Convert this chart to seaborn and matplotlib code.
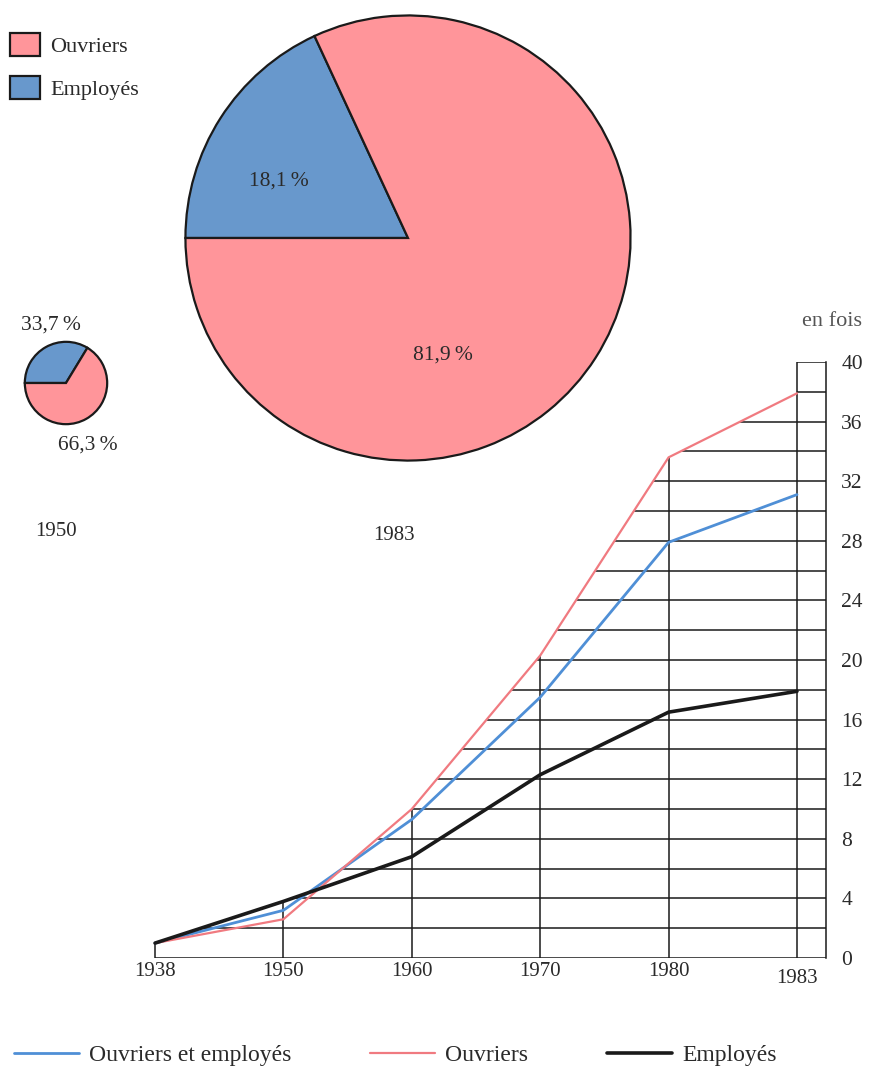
import numpy as np
import pandas as pd
import matplotlib
matplotlib.use("Agg")
import matplotlib.pyplot as plt
import seaborn as sns

# ---------------- data ----------------
years = ["1938", "1950", "1960", "1970", "1980", "1983"]
ouvriers_et_employes = [1.0, 3.2, 9.3, 17.5, 27.9, 31.1]
ouvriers = [1.0, 2.6, 10.0, 20.3, 33.6, 37.9]
employes = [1.0, 3.8, 6.8, 12.3, 16.5, 17.9]
series_names = ["Ouvriers et employés", "Ouvriers", "Employés"]

y_ticks = [0, 4, 8, 12, 16, 20, 24, 28, 32, 36, 40]

pie_labels = ["Employés", "Ouvriers"]
pie_1950 = [33.7, 66.3]
pie_1983 = [18.1, 81.9]

# ---------------- style ----------------
sns.set_theme(style="white")
plt.rcParams["font.family"] = ["Liberation Serif", "DejaVu Serif"]
TXT = "#2a2a2a"
RED = "#ff959a"
BLUE = "#6898cc"
LINE_RED = "#f07a80"
LINE_BLUE = "#4f8fd6"

W, H = 870, 1073
fig = plt.figure(figsize=(W / 100, H / 100), dpi=100)


def fx(x):
    return x / W


def fy(y):
    return 1 - y / H


# ---------------- line chart ----------------
xr = 5.226
ax = fig.add_axes([fx(142.2), fy(958), fx(826 - 142.2), (958 - 362) / H])
pos = np.arange(len(years))
df = pd.DataFrame({
    "pos": np.tile(pos, 3),
    "value": ouvriers_et_employes + ouvriers + employes,
    "serie": np.repeat(series_names, len(years)),
})
styles = {
    "Ouvriers et employés": dict(color=LINE_BLUE, linewidth=2.0),
    "Ouvriers": dict(color=LINE_RED, linewidth=1.6),
    "Employés": dict(color="#1a1a1a", linewidth=2.6),
}
for name in series_names:
    sub = df[df["serie"] == name]
    sns.lineplot(data=sub, x="pos", y="value", ax=ax, label=name, zorder=3, **styles[name])

# grid drawn under the upper envelope of the curves
xs = np.linspace(0, 5, 5001)
vals = np.array([ouvriers_et_employes, ouvriers, employes])
env = np.max([np.interp(xs, pos, v) for v in vals], axis=0)
for lvl in range(0, 40, 2):
    if lvl == 0:
        start = 0
    elif env.max() >= lvl:
        start = xs[np.argmax(env >= lvl)]
    else:
        start = 5
    ax.hlines(lvl, start, xr, color="#1a1a1a", lw=1.1, zorder=2)
ax.hlines(40, 5, xr, color="#1a1a1a", lw=1.1, zorder=2)
tops = vals.max(axis=0)
for i, t in enumerate(tops):
    top = 40 if i == len(years) - 1 else t
    ax.vlines(i, 0, top, color="#1a1a1a", lw=1.1, zorder=2)

ax.set_xlim(-0.1, xr)
ax.set_ylim(0, 40)
ax.set_xticks(pos)
ax.set_xticklabels(years)
ax.set_yticks(y_ticks)
ax.yaxis.tick_right()
ax.tick_params(axis="y", length=0, pad=11, labelsize=15.5, labelcolor=TXT)
ax.tick_params(axis="x", length=0, pad=3, labelsize=15, labelcolor=TXT)
ax.get_xticklabels()[-1].set_y(-0.012)
ax.set_xlabel("")
ax.set_ylabel("")
for s in ["left", "top", "bottom"]:
    ax.spines[s].set_visible(False)
ax.spines["right"].set_color("#1a1a1a")
ax.spines["right"].set_linewidth(1.1)
ax.set_facecolor("none")
handles, labels = ax.get_legend_handles_labels()
ax.get_legend().remove()

fig.text(fx(832), fy(322), "en fois", ha="center", va="center", fontsize=16, color="#555555")

fig.legend(handles, labels, loc="center left", bbox_to_anchor=(fx(14), fy(1055)),
           ncol=3, frameon=False, fontsize=17, handlelength=2.75, handletextpad=0.42,
           columnspacing=3.35, borderpad=0, borderaxespad=0, labelcolor=TXT)

# ---------------- pies ----------------
def draw_pie(cx, cy, r, values):
    pax = fig.add_axes([fx(cx - r), fy(cy + r), 2 * r / W, 2 * r / H])
    wedges, _ = pax.pie(values, colors=[BLUE, RED], startangle=180, counterclock=False,
                        wedgeprops=dict(edgecolor="#1a1a1a", linewidth=1.6))
    pax.set_xlim(-1.02, 1.02)
    pax.set_ylim(-1.02, 1.02)
    pax.set_aspect("auto")
    pax.axis("off")
    return wedges


w83 = draw_pie(408, 238, 227, pie_1983)
w50 = draw_pie(66, 383, 42, pie_1950)

fig.text(fx(279), fy(181), "18,1\u2009%", ha="center", va="center", fontsize=15.5, color=TXT)
fig.text(fx(443), fy(355), "81,9\u2009%", ha="center", va="center", fontsize=15.5, color=TXT)
fig.text(fx(51), fy(325), "33,7\u2009%", ha="center", va="center", fontsize=15.5, color=TXT)
fig.text(fx(88), fy(445), "66,3\u2009%", ha="center", va="center", fontsize=15.5, color=TXT)
fig.text(fx(56), fy(532), "1950", ha="center", va="center", fontsize=15, color=TXT)
fig.text(fx(394), fy(536), "1983", ha="center", va="center", fontsize=15, color=TXT)

fig.legend([w83[1], w83[0]], ["Ouvriers", "Employés"], loc="upper left",
           bbox_to_anchor=(fx(10), fy(33)), frameon=False, fontsize=16,
           handlelength=1.35, handleheight=1.2, handletextpad=0.45, labelspacing=0.85,
           borderpad=0, borderaxespad=0, labelcolor=TXT)

fig.savefig("out.png", dpi=100)
